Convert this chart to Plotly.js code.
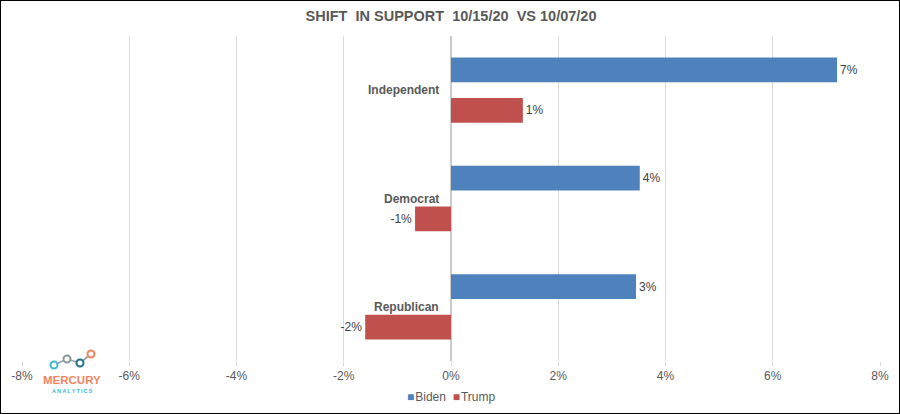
<!DOCTYPE html>
<html>
<head>
<meta charset="utf-8">
<script src="https://cdn.plot.ly/plotly-3.0.1.min.js"></script>
<style>
  html, body { margin: 0; padding: 0; background: #fff; }
  #wrap { position: relative; width: 900px; height: 414px; }
  #chart { width: 900px; height: 414px; }
  #frame { position: absolute; left: 0; top: 0; width: 900px; height: 414px; box-sizing: border-box;
           border: 1.5px solid #000; pointer-events: none; }
</style>
</head>
<body>
<div id="wrap"><div id="chart"></div><div id="frame"></div></div>
<script>
// ---- data ----
const categories = ['Independent', 'Democrat', 'Republican'];
const bidenShift = [7.2, 3.52, 3.45];
const trumpShift = [1.34, -0.67, -1.6];
const seriesNames = ['Biden', 'Trump'];
const seriesColors = ['#4f81bd', '#c0504d'];
const tickValues = [-8, -6, -4, -2, 0, 2, 4, 6, 8];
const tickLabels = ['-8%', '-6%', '-4%', '-2%', '0%', '2%', '4%', '6%', '8%'];
const titleText = 'SHIFT\u00A0\u00A0IN SUPPORT\u00A0\u00A010/15/20\u00A0\u00A0VS 10/07/20';

// ---- layout helpers ----
const W = 900, H = 414;
const M = { l: 22, r: 20, t: 36, b: 53 };
const PW = W - M.l - M.r, PH = H - M.t - M.b;
const px = x => (x - M.l) / PW;          // pixel -> paper x
const py = y => (H - M.b - y) / PH;      // pixel -> paper y

const FONT = '"Liberation Sans", Arial, sans-serif';
const pctText = arr => arr.map(v => Math.round(v) + '%');

const traces = [
  { type: 'bar', orientation: 'h', name: seriesNames[0], y: categories, x: bidenShift,
    marker: { color: seriesColors[0] }, text: pctText(bidenShift), textposition: 'outside',
    textfont: { family: FONT, size: 12, color: '#404040' }, cliponaxis: false, hoverinfo: 'x+y' },
  { type: 'bar', orientation: 'h', name: seriesNames[1], y: categories, x: trumpShift,
    marker: { color: seriesColors[1] }, text: pctText(trumpShift), textposition: 'outside',
    textfont: { family: FONT, size: 12, color: '#404040' }, cliponaxis: false, hoverinfo: 'x+y' }
];

// category labels placed beside the zero line
const catAnnotations = categories.map(c => ({
  x: 0, y: c, xref: 'x', yref: 'y', text: '<b>' + c + '</b>', showarrow: false,
  xanchor: 'right', yanchor: 'middle', xshift: -10,
  font: { family: FONT, size: 12, color: '#595959' }
}));

// compact legend (Excel style: small square directly before the name)
const legendText = seriesNames.map((n, i) =>
  '<span style="color:' + seriesColors[i] + ';font-size:12px">\u25A0</span>\u200A' + n).join('\u00A0\u00A0');
const legendAnnotation = {
  xref: 'paper', yref: 'paper', x: 0.5, y: py(397), text: legendText, showarrow: false,
  xanchor: 'center', yanchor: 'middle', font: { family: FONT, size: 12, color: '#595959' }
};

// Mercury Analytics logo (decorative)
const dots = [[54, 365, '#3bb9d0'], [67, 359, '#8c9a9a'], [80, 363, '#1f7090'], [91, 354, '#f4845f']];
const logoShapes = [];
for (let i = 0; i < dots.length - 1; i++) {
  logoShapes.push({ type: 'line', xref: 'paper', yref: 'paper',
    x0: px(dots[i][0]), y0: py(dots[i][1]), x1: px(dots[i + 1][0]), y1: py(dots[i + 1][1]),
    line: { color: '#9aa5a5', width: 1.8 } });
}
dots.forEach(d => logoShapes.push({ type: 'circle', xref: 'paper', yref: 'paper',
  x0: px(d[0] - 3.5), x1: px(d[0] + 3.5), y0: py(d[1] + 3.5), y1: py(d[1] - 3.5),
  fillcolor: '#ffffff', line: { color: d[2], width: 2 } }));

const logoAnnotations = [
  { xref: 'paper', yref: 'paper', x: px(72), y: py(380), text: '<b>MERCURY</b>', showarrow: false,
    xanchor: 'center', yanchor: 'middle', font: { family: FONT, size: 11.5, color: '#f4845f' } },
  { xref: 'paper', yref: 'paper', x: px(72), y: py(391), text: '<b>A\u2009N\u2009A\u2009L\u2009Y\u2009T\u2009I\u2009C\u2009S</b>', showarrow: false,
    xanchor: 'center', yanchor: 'middle', font: { family: FONT, size: 5.5, color: '#3bb9d0' } }
];

const layout = {
  width: W, height: H,
  margin: M,
  paper_bgcolor: '#ffffff', plot_bgcolor: '#ffffff',
  font: { family: FONT, size: 12, color: '#595959' },
  title: { text: '<b>' + titleText + '</b>', x: 0.5, xanchor: 'center', xref: 'paper',
           y: 1 - 16 / H, yref: 'container', yanchor: 'middle',
           font: { family: FONT, size: 14.5, color: '#595959' } },
  barmode: 'group', bargap: 0.25, bargroupgap: 0.39,
  xaxis: { range: [-8, 8], tickvals: tickValues, ticktext: tickLabels,
           showgrid: true, gridcolor: '#d9d9d9', gridwidth: 1,
           zeroline: true, zerolinecolor: '#cacaca', zerolinewidth: 2,
           ticks: 'outside', ticklen: 4, tickcolor: '#d9d9d9', showline: false,
           automargin: false,
           tickfont: { family: FONT, size: 12, color: '#595959' }, fixedrange: true },
  yaxis: { type: 'category', autorange: 'reversed', showgrid: false, zeroline: false,
           showticklabels: false, ticks: '', showline: false, fixedrange: true, automargin: false },
  showlegend: false,
  annotations: catAnnotations.concat(logoAnnotations, [legendAnnotation]),
  shapes: logoShapes
};

Plotly.newPlot('chart', traces, layout, { displayModeBar: false, staticPlot: true });
</script>
</body>
</html>
